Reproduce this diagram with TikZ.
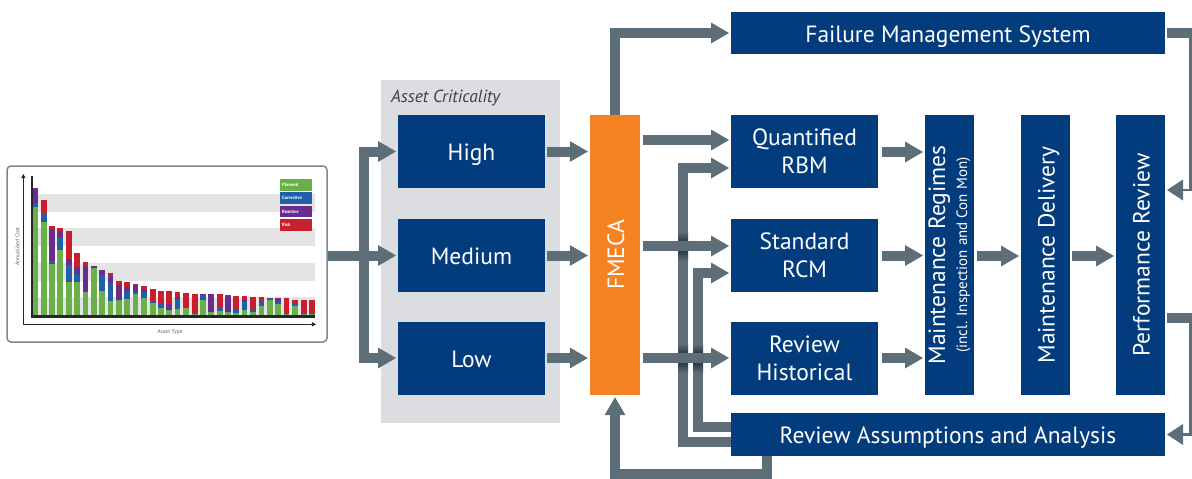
\documentclass[tikz,border=0pt]{standalone}
\usepackage{fontspec}
\setmainfont{PT Sans}
\usetikzlibrary{arrows.meta}
\definecolor{boxblue}{HTML}{023C7C}
\definecolor{arrowgray}{HTML}{5D6E79}
\definecolor{shadowdark}{HTML}{2B3A45}
\definecolor{panelgray}{HTML}{DCDDE0}
\definecolor{fmecaorange}{HTML}{F58220}
\definecolor{chartborder}{HTML}{7A8893}
\definecolor{bandgray}{HTML}{E4E4E4}
\definecolor{axisdark}{HTML}{262626}
\definecolor{cgreen}{HTML}{6AB04A}
\definecolor{cblue}{HTML}{2060A8}
\definecolor{cpurple}{HTML}{6B2C8F}
\definecolor{cred}{HTML}{C81F2E}
\newcommand{\boxfont}{\fontsize{23.5}{28}\selectfont}
\begin{document}
\begin{tikzpicture}[x=1pt,y=-1pt,
  boxbase/.style={fill=boxblue,inner sep=0pt,outer sep=0pt,text=white,align=center,font=\boxfont},
  boxwide/.style={boxbase,minimum width=434pt,minimum height=42pt},
  boxmid/.style={boxbase,minimum width=147pt,minimum height=73pt},
  boxtall/.style={boxbase,minimum width=49pt,minimum height=280pt},
  oneline/.style={text height=18pt,text depth=0pt},
  vlabel/.style={rotate=90,text=white,align=center,font=\boxfont,inner sep=0pt},
  arr/.style={draw=arrowgray,line width=10pt,-{Triangle[length=18pt,width=21pt,line width=0pt 0 0]},shorten >=2pt},
  pipe/.style={draw=arrowgray,line width=10pt},
  thinarr/.style={draw=arrowgray,line width=2.6pt,-{Triangle[length=16pt,width=21pt,line width=0pt 0 0]},shorten >=2pt},
  tiny/.style={inner sep=0pt,font=\fontsize{4.6}{5}\selectfont\bfseries}
]
\useasboundingbox (0,0) rectangle (1192,479);

% chart panel
\node[draw=chartborder,line width=1.5pt,rounded corners=4pt,fill=white,minimum width=320pt,minimum height=176pt,inner sep=0pt] (chart) at (167,254) {};
\begin{scope}[shift={(0pt,-160pt)},x=0.33333pt,y=-0.33333pt]
  \fill[bandgray] (100,102) rectangle (945,155);
  \fill[bandgray] (100,205) rectangle (945,258);
  \fill[bandgray] (100,308) rectangle (945,362);
  \fill[bandgray] (100,410) rectangle (945,467);
  \foreach \xl/\g/\b/\p/\r in {98/140/130/84/84,123/185/158/158/120,148/312/303/207/198,172/270/231/213/204,
     198/365/315/297/212,222/365/341/320/279,248/395/395/317/306,273/323/323/317/317,298/393/345/329/329,
     323/422/369/347/339,348/420/420/375/363,372/416/395/381/366,398/401/395/372/372,423/413/395/389/378,
     450/428/424/424/387,474/443/431/431/393,498/450/450/431/393,524/446/416/410/396,549/443/440/440/399,
     576/461/461/461/402,600/420/404/402/402,624/456/456/402/402,651/452/443/443/402,675/456/456/407/405,
     699/459/447/447/408,725/449/427/419/408,750/455/450/450/411,776/437/424/424/410,801/419/414/414/414,
     825/431/425/414/414,851/462/462/462/414,876/437/429/429/420,903/461/461/461/420,927/461/461/461/420}{
    \fill[cgreen] (\xl,467) rectangle (\xl+17,\g);
    \fill[cblue] (\xl,\g) rectangle (\xl+17,\b);
    \fill[cpurple] (\xl,\b) rectangle (\xl+17,\p);
    \fill[cred] (\xl,\p) rectangle (\xl+17,\r);
  }
  \draw[axisdark,line width=2.7pt] (96,48) -- (96,470) -- (945,470);
  \draw[axisdark,line width=1.6pt,-{Triangle[length=4pt,width=4pt]}] (70,493) -- (70,42);
  \draw[axisdark,line width=1.6pt,-{Triangle[length=4pt,width=4pt]}] (70,493) -- (948,493);
  \fill[cgreen] (840,57) rectangle (935,92);
  \fill[cblue] (840,96) rectangle (935,131);
  \fill[cpurple] (840,137) rectangle (935,172);
  \fill[cred] (840,177) rectangle (935,212);
  \node[tiny,anchor=west,text=white] (lg1) at (846,75) {Planned};
  \node[tiny,anchor=west,text=white] (lg2) at (846,114) {Corrective};
  \node[tiny,anchor=west,text=white] (lg3) at (846,155) {Reactive};
  \node[tiny,anchor=west,text=white] (lg4) at (846,194) {Risk};
  \node[rotate=90,text=black!60,inner sep=0pt,font=\fontsize{5.6}{6}\selectfont] (ylab) at (52,260) {Annualised Cost};
  \node[text=black!60,inner sep=0pt,font=\fontsize{5.6}{6}\selectfont] (xlab) at (510,515) {Asset Type};
\end{scope}

% asset criticality panel
\node[fill=panelgray,minimum width=179pt,minimum height=343pt,inner sep=0pt] (panel) at (470.5,251.5) {};
\node[anchor=west,text=black!75,font=\fontsize{17.5}{18}\selectfont\itshape,inner sep=0pt] (paneltitle) at (391,98) {Asset Criticality};
\node[boxmid,oneline] (high) at (471.5,151.5) {High};
\node[boxmid,oneline] (medium) at (471.5,255.5) {Medium};
\node[boxmid,oneline] (low) at (471.5,358) {Low};

% FMECA
\node[fill=fmecaorange,minimum width=50pt,minimum height=280pt,inner sep=0pt] (fmeca) at (615,255) {};
\node[vlabel,oneline] (fmecatext) at (fmeca.center) {FMECA};

% right boxes
\node[boxwide,oneline] (fms) at (948,33) {Failure Management System};
\node[boxmid] (qrbm) at (804.5,151) {Quantified\\RBM};
\node[boxmid] (srcm) at (804.5,255.5) {Standard\\RCM};
\node[boxmid] (rh) at (804.5,358) {Review\\Historical};
\node[boxwide,oneline,minimum height=43pt] (raa) at (948,434.5) {Review Assumptions and Analysis};
\node[boxtall] (mr) at (949.5,255) {};
\node[vlabel] (mrtext) at (mr.center) {Maintenance Regimes\\[-6pt]{\fontsize{15}{16}\selectfont (incl. Inspection and Con Mon)}};
\node[boxtall] (md) at (1045.5,255) {};
\node[vlabel,oneline] (mdtext) at (md.center) {Maintenance Delivery};
\node[boxtall] (pr) at (1140.5,255) {};
\node[vlabel,oneline] (prtext) at (pr.center) {Performance Review};

% chart to criticality
\coordinate (bus) at (363.5,255.5);
\draw[pipe] (chart.east |- bus) -- (bus);
\draw[arr] (bus) |- (high.west);
\draw[arr] (bus) -- (medium.west);
\draw[arr] (bus) |- (low.west);

% criticality to FMECA
\draw[arr,shorten <=2pt] (high.east) -- (fmeca.west |- high.east);
\draw[arr,shorten <=2pt] (medium.east) -- (fmeca.west |- medium.east);
\draw[arr,shorten <=2pt] (low.east) -- (fmeca.west |- low.east);

% FMECA to FMS
\draw[arr] (fmeca.north) |- (fms.west);

% feedback loops from review assumptions
\draw[arr] (raa.west |- 0,442) -| (683,168) -- (qrbm.west |- 0,168);
\draw[arr] (raa.west |- 0,427) -| (698,273) -- (srcm.west |- 0,273);
% shadows at crossings
\shade[top color=arrowgray,bottom color=shadowdark] (678,232) rectangle (688,241);
\shade[top color=shadowdark,bottom color=arrowgray] (678,251) rectangle (688,261);
\shade[top color=arrowgray,bottom color=shadowdark] (678,344) rectangle (688,353);
\shade[top color=shadowdark,bottom color=arrowgray] (678,363) rectangle (688,373);
\shade[top color=arrowgray,bottom color=shadowdark] (693,344) rectangle (703,353);
\shade[top color=shadowdark,bottom color=arrowgray] (693,363) rectangle (703,373);

% FMECA to methods
\draw[arr,shorten <=3pt] (fmeca.east |- 0,140) -- (qrbm.west |- 0,140);
\draw[arr,shorten <=3pt] (fmeca.east |- 0,246) -- (srcm.west |- 0,246);
\draw[arr,shorten <=3pt] (fmeca.east |- rh.west) -- (rh.west);

% review assumptions back to FMECA
\draw[arr] (raa.south -| 767,0) -- (767,474) -| (fmeca.south);

% methods to regimes, delivery, review
\draw[arr,shorten <=4pt] (qrbm.east |- 0,152) -- (mr.west |- 0,152);
\draw[arr,shorten <=4pt] (srcm.east) -- (mr.west |- srcm.east);
\draw[arr,shorten <=4pt] (rh.east) -- (mr.west |- rh.east);
\draw[arr,shorten <=3pt] (mr.east |- 0,256) -- (md.west |- 0,256);
\draw[arr,shorten <=2pt] (md.east |- 0,256) -- (pr.west |- 0,256);

% right side feedback
\draw[pipe,shorten <=2pt] (fms.east) -- (1192,33);
\draw[thinarr] (1190.7,33) |- (pr.east |- 0,190);
\draw[pipe,shorten <=2pt] (pr.east |- 0,317.5) -- (1192,317.5);
\draw[thinarr] (1190.7,317.5) |- (raa.east);
\end{tikzpicture}
\end{document}
